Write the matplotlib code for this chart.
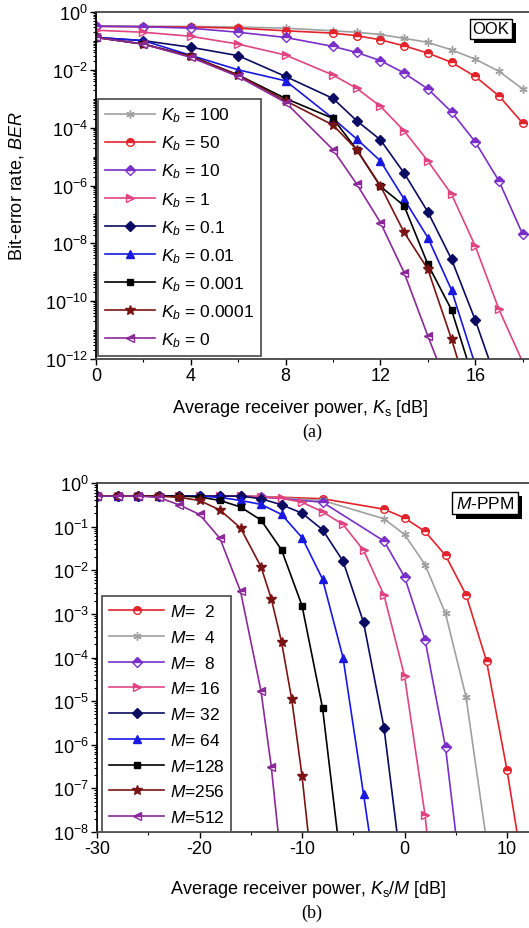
import numpy as np
import matplotlib
matplotlib.use("Agg")
import matplotlib.pyplot as plt
from matplotlib import ticker, patheffects

plt.rcParams['font.family'] = ['Liberation Sans', 'DejaVu Sans']
plt.rcParams['mathtext.fontset'] = 'custom'
plt.rcParams['mathtext.rm'] = 'Liberation Sans'
plt.rcParams['mathtext.it'] = 'Liberation Sans:italic'
plt.rcParams['mathtext.bf'] = 'Liberation Sans:bold'
plt.rcParams['axes.unicode_minus'] = False

# ---- (a) OOK : BER vs Ks [dB], values are log10(BER)
ks_full = [0, 2, 4, 6, 8, 10, 11, 12, 13, 14, 15, 16, 17, 18]
ook_labels = ['$K_b$ = 100', '$K_b$ = 50', '$K_b$ = 10', '$K_b$ = 1', '$K_b$ = 0.1',
              '$K_b$ = 0.01', '$K_b$ = 0.001', '$K_b$ = 0.0001', '$K_b$ = 0']
ook_kb100 = [-0.48, -0.49, -0.50, -0.52, -0.56, -0.65, -0.70, -0.78, -0.91, -1.05, -1.31, -1.63, -2.05, -2.66]
ook_kb50 = [-0.50, -0.51, -0.52, -0.56, -0.65, -0.73, -0.82, -0.96, -1.17, -1.42, -1.74, -2.23, -2.90, -3.84]
ook_kb10 = [-0.49, -0.51, -0.56, -0.70, -0.88, -1.19, -1.40, -1.68, -2.11, -2.66, -3.45, -4.49, -5.84, -7.68]
ook_kb1 = [-0.63, -0.70, -0.84, -1.11, -1.49, -2.18, -2.64, -3.26, -4.11, -5.15, -6.30, -8.09, -10.28, -12.1]
ook_kb01 = [-0.88, -0.99, -1.22, -1.51, -2.23, -2.99, -3.76, -4.42, -5.57, -6.91, -8.55, -10.65, -13.0]
ook_kb001 = [-0.88, -0.99, -1.50, -2.00, -2.38, -3.68, -4.39, -5.15, -6.47, -7.80, -9.61, -12.2]
ook_kb0001 = [-0.88, -1.11, -1.53, -2.18, -2.99, -3.68, -4.76, -6.03, -6.70, -8.72, -10.30, -12.9]
ook_kb00001 = [-0.88, -1.11, -1.53, -2.18, -3.07, -3.91, -4.76, -6.01, -7.62, -8.89, -11.31, -14.0]
ook_kb0 = [-0.88, -1.11, -1.57, -2.23, -3.13, -4.76, -5.95, -7.28, -9.01, -11.20, -13.3]
ook_series = [ook_kb100, ook_kb50, ook_kb10, ook_kb1, ook_kb01,
              ook_kb001, ook_kb0001, ook_kb00001, ook_kb0]

# ---- (b) M-PPM : BER vs Ks/M [dB]
plateau = [-30, -28, -26, -24, -22, -20, -18, -16, -14]
ppm_labels = ['$M$=  2', '$M$=  4', '$M$=  8', '$M$= 16', '$M$= 32',
              '$M$= 64', '$M$=128', '$M$=256', '$M$=512']
ppm_x2 = plateau + [-8, -2, 0, 2, 4, 6, 8, 10, 12]
ppm_y2 = [-0.30] * 8 + [-0.31, -0.36, -0.60, -0.80, -1.11, -1.66, -2.56, -4.08, -6.58, -9.5]
ppm_x4 = plateau + [-8, -2, 0, 2, 4, 6, 8]
ppm_y4 = [-0.30] * 8 + [-0.31, -0.40, -0.82, -1.18, -1.87, -2.99, -4.90, -8.2]
ppm_x8 = plateau + [-8, -2, 0, 2, 4, 6]
ppm_y8 = [-0.30] * 8 + [-0.32, -0.44, -1.33, -2.15, -3.59, -6.06, -10.0]
ppm_x16 = plateau + [-12, -10, -8, -6, -4, -2, 0, 2, 4]
ppm_y16 = [-0.30] * 8 + [-0.32, -0.35, -0.44, -0.66, -0.95, -1.54, -2.57, -4.42, -7.61, -12.0]
ppm_x32 = plateau + [-12, -10, -8, -6, -4, -2, 0]
ppm_y32 = [-0.30] * 8 + [-0.36, -0.50, -0.69, -1.07, -1.79, -3.19, -5.61, -9.4]
ppm_x64 = plateau + [-12, -10, -8, -6, -4, -2]
ppm_y64 = [-0.30] * 6 + [-0.33, -0.40, -0.49, -0.72, -1.25, -2.20, -4.00, -7.13, -10.3]
ppm_x128 = plateau + [-12, -10, -8, -6]
ppm_y128 = [-0.30] * 5 + [-0.32, -0.40, -0.55, -0.85, -1.53, -2.81, -5.15, -9.1]
ppm_x256 = plateau + [-13, -12, -11, -10, -9]
ppm_y256 = [-0.30] * 4 + [-0.33, -0.40, -0.62, -1.03, -1.92, -2.65, -3.64, -4.96, -6.71, -8.9]
ppm_x512 = [-30, -28, -26, -24, -22, -20, -18, -16, -14, -13, -12]
ppm_y512 = [-0.30, -0.30, -0.30, -0.33, -0.50, -0.72, -1.27, -2.48, -4.77, -6.50, -8.75]
ppm_x = [ppm_x2, ppm_x4, ppm_x8, ppm_x16, ppm_x32, ppm_x64, ppm_x128, ppm_x256, ppm_x512]
ppm_y = [ppm_y2, ppm_y4, ppm_y8, ppm_y16, ppm_y32, ppm_y64, ppm_y128, ppm_y256, ppm_y512]

# styles (order follows the legends)
ook_styles = [
    dict(color='#a0a0a0', marker=(6, 2, 0), ms=6, half=False),
    dict(color='#e3232b', marker='o', ms=5.5, half=True),
    dict(color='#7a2fc8', marker='D', ms=5, half=True),
    dict(color='#e04482', marker='>', ms=6, half=True),
    dict(color='#0b0b62', marker='D', ms=5, half=False),
    dict(color='#1818e0', marker='^', ms=6, half=False),
    dict(color='#000000', marker='s', ms=5, half=False),
    dict(color='#7a1414', marker='*', ms=7, half=False),
    dict(color='#8a2a98', marker='<', ms=6, half=True),
]
ppm_styles = [ook_styles[1], ook_styles[0]] + ook_styles[2:]


def draw(ax, x, logy, label, st):
    ax.plot(x, 10.0 ** np.array(logy), color=st['color'], lw=1.2,
            marker=st['marker'], ms=st['ms'], mec=st['color'], mew=1.0,
            mfc=st['color'], fillstyle='top' if st['half'] else 'full',
            markerfacecoloralt='white', label=label)


def style_axes(ax):
    for s in ax.spines.values():
        s.set_color('#444444')
        s.set_linewidth(1.3)
    ax.spines['left'].set_color('black')
    ax.tick_params(which='major', direction='out', length=4, width=1, labelsize=13, pad=2)
    ax.tick_params(which='minor', direction='out', length=2.5, width=0.8)
    ax.tick_params(axis='x', which='both', top=False)
    ax.tick_params(axis='y', which='both', right=False)


fig = plt.figure(figsize=(5.29, 9.29), dpi=100)
W, H = 529.0, 929.0

# ---------- panel (a)
ax1 = fig.add_axes([96 / W, 1 - 360 / H, (535 - 96) / W, (360 - 13) / H])
for i, (vals, lab) in enumerate(zip(ook_series, ook_labels)):
    draw(ax1, ks_full[:len(vals)], vals, lab, ook_styles[i])
ax1.set_yscale('log')
ax1.set_ylim(1e-12, 1)
ax1.set_xlim(0, 439 / 23.7)
ax1.set_xticks([0, 4, 8, 12, 16])
ax1.set_xticks([2, 6, 10, 14, 18], minor=True)
ax1.set_yticks([10.0 ** -k for k in range(0, 13, 2)])
ax1.yaxis.set_minor_locator(ticker.LogLocator(base=10, subs=np.arange(1, 10), numticks=100))
ax1.yaxis.set_minor_formatter(ticker.NullFormatter())
style_axes(ax1)
ax1.set_xlabel('Average receiver power, $K_\\mathrm{s}$ [dB]', fontsize=13)
ax1.xaxis.set_label_coords((300 - 96) / 439, -(398 - 360) / 347)
ax1.set_ylabel('Bit-error rate, $BER$', fontsize=13)
ax1.yaxis.set_label_coords(-(96 - 26) / 439, 0.5)
leg1 = ax1.legend(loc='lower left', bbox_to_anchor=(0.005, 0.009), borderaxespad=0,
                  fontsize=12.5, handlelength=2.9, handletextpad=0.3, labelspacing=0.54,
                  borderpad=0.4, fancybox=False, framealpha=1, edgecolor='#555555')
leg1.get_frame().set_linewidth(1.3)
t1 = ax1.text((491 - 96) / 439, 1 - (30 - 13) / 347, 'OOK', transform=ax1.transAxes,
              ha='center', va='center', fontsize=12,
              bbox=dict(boxstyle='square,pad=0.15', fc='white', ec='black', lw=1))
t1.get_bbox_patch().set_path_effects([patheffects.withSimplePatchShadow(
    offset=(3, -3), shadow_rgbFace='black', alpha=1.0)])

# ---------- panel (b)
ax2 = fig.add_axes([97 / W, 1 - 833 / H, (535 - 97) / W, (833 - 484) / H])
for i in range(len(ppm_x)):
    draw(ax2, ppm_x[i], ppm_y[i], ppm_labels[i], ppm_styles[i])
ax2.set_yscale('log')
ax2.set_ylim(1e-8, 1)
ax2.set_xlim(-30, -30 + 438 / 10.25)
ax2.set_xticks([-30, -20, -10, 0, 10])
ax2.set_xticks([-25, -15, -5, 5], minor=True)
ax2.set_yticks([10.0 ** -k for k in range(0, 9)])
ax2.yaxis.set_minor_locator(ticker.LogLocator(base=10, subs=np.arange(2, 10), numticks=100))
ax2.yaxis.set_minor_formatter(ticker.NullFormatter())
style_axes(ax2)
ax2.set_xlabel('Average receiver power, $K_\\mathrm{s}/M$ [dB]', fontsize=13)
ax2.xaxis.set_label_coords((308 - 97) / 438, -(879 - 833) / 349)
leg2 = ax2.legend(loc='lower left', bbox_to_anchor=(0.011, 0.0), borderaxespad=0,
                  fontsize=12.5, handlelength=3.2, handletextpad=0.3, labelspacing=0.56,
                  borderpad=0.4, fancybox=False, framealpha=1, edgecolor='#555555')
leg2.get_frame().set_linewidth(1.3)
t2 = ax2.text((485 - 97) / 438, 1 - (504 - 484) / 349, '$M$-PPM', transform=ax2.transAxes,
              ha='center', va='center', fontsize=12.5,
              bbox=dict(boxstyle='square,pad=0.2', fc='white', ec='black', lw=1))
t2.get_bbox_patch().set_path_effects([patheffects.withSimplePatchShadow(
    offset=(3, -3), shadow_rgbFace='black', alpha=1.0)])

fig.text(312 / W, 1 - 432 / H, '(a)', family='Liberation Serif', fontsize=13,
         ha='center', va='center')
fig.text(312 / W, 1 - 913 / H, '(b)', family='Liberation Serif', fontsize=13,
         ha='center', va='center')

fig.savefig('out.png', dpi=100)
